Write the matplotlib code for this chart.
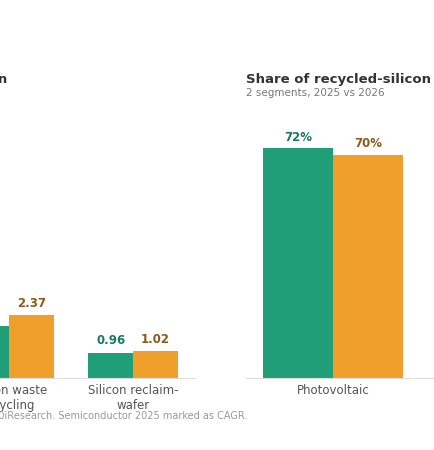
import matplotlib
matplotlib.use("Agg")
import matplotlib.pyplot as plt
import numpy as np

W, H = 434, 450

# left panel: revenue by segment
rev_cats = ["Silicon kerf\nrecycling", "Silicon waste\nrecycling", "Silicon reclaim-\nwafer"]
rev_2025 = [3.10, 1.96, 0.96]
rev_2026 = [3.45, 2.37, 1.02]

# right panel: share by segment
share_cats = ["Photovoltaic", "Semiconductor"]
share_2025 = [72, 28]
share_2026 = [70, 30]

GREEN, ORANGE = "#1f9e77", "#f0a02a"
GREEN_TXT, ORANGE_TXT = "#1b7a5d", "#8c5a1c"


def px(x0, y0, x1, y1):
    # pixel box (top-left origin) -> figure coords
    return [x0 / W, 1 - y1 / H, (x1 - x0) / W, (y1 - y0) / H]


def style(ax):
    for s in ("top", "right", "left"):
        ax.spines[s].set_visible(False)
    ax.spines["bottom"].set_color("#dddddd")
    ax.set_yticks([])
    ax.tick_params(axis="x", length=0, labelsize=8.5, labelcolor="#555555", pad=4)


fig = plt.figure(figsize=(W / 100, H / 100), dpi=100)

ax1 = fig.add_axes(px(-177, 100, 195, 378))
x = np.arange(len(rev_cats))
w = 0.36
b1 = ax1.bar(x - w / 2, rev_2025, w, color=GREEN)
b2 = ax1.bar(x + w / 2, rev_2026, w, color=ORANGE)
for r, v in zip(b1, rev_2025):
    ax1.text(r.get_x() + r.get_width() / 2, v + 0.2, f"{v:.2f}", ha="center", va="bottom",
             fontsize=8.5, fontweight="bold", color=GREEN_TXT)
for r, v in zip(b2, rev_2026):
    ax1.text(r.get_x() + r.get_width() / 2, v + 0.2, f"{v:.2f}", ha="center", va="bottom",
             fontsize=8.5, fontweight="bold", color=ORANGE_TXT)
ax1.set_xticks(x)
ax1.set_xticklabels(rev_cats)
ax1.set_xlim(-0.5, 2.5)
ax1.set_ylim(0, 278 / 26.5)
style(ax1)

ax2 = fig.add_axes(px(246, 123, 594, 378))
x = np.arange(len(share_cats))
w = 0.4
b1 = ax2.bar(x - w / 2, share_2025, w, color=GREEN)
b2 = ax2.bar(x + w / 2, share_2026, w, color=ORANGE)
for r, v in zip(b1, share_2025):
    ax2.text(r.get_x() + r.get_width() / 2, v + 1.5, f"{v}%", ha="center", va="bottom",
             fontsize=8.5, fontweight="bold", color=GREEN_TXT)
for r, v in zip(b2, share_2026):
    ax2.text(r.get_x() + r.get_width() / 2, v + 1.5, f"{v}%", ha="center", va="bottom",
             fontsize=8.5, fontweight="bold", color=ORANGE_TXT)
ax2.set_xticks(x)
ax2.set_xticklabels(share_cats)
ax2.set_xlim(-0.5, 1.5)
ax2.set_ylim(0, 255 / 3.19)
style(ax2)

fig.text(7 / W, 1 - 80 / H, "Recycled-silicon revenue by segment, USD bn", ha="right", va="center",
         fontsize=9.5, fontweight="bold", color="#333333")
fig.text(246 / W, 1 - 80 / H, "Share of recycled-silicon demand by segment", ha="left", va="center",
         fontsize=9.5, fontweight="bold", color="#333333")
fig.text(246 / W, 1 - 93 / H, "2 segments, 2025 vs 2026", ha="left", va="center",
         fontsize=7.5, color="#777777")
fig.text(247 / W, 1 - 416 / H,
         "Source: Company reports, industry research, 360iResearch. Semiconductor 2025 marked as CAGR.",
         ha="right", va="center", fontsize=7, color="#999999")

fig.savefig("out.png", dpi=100)
